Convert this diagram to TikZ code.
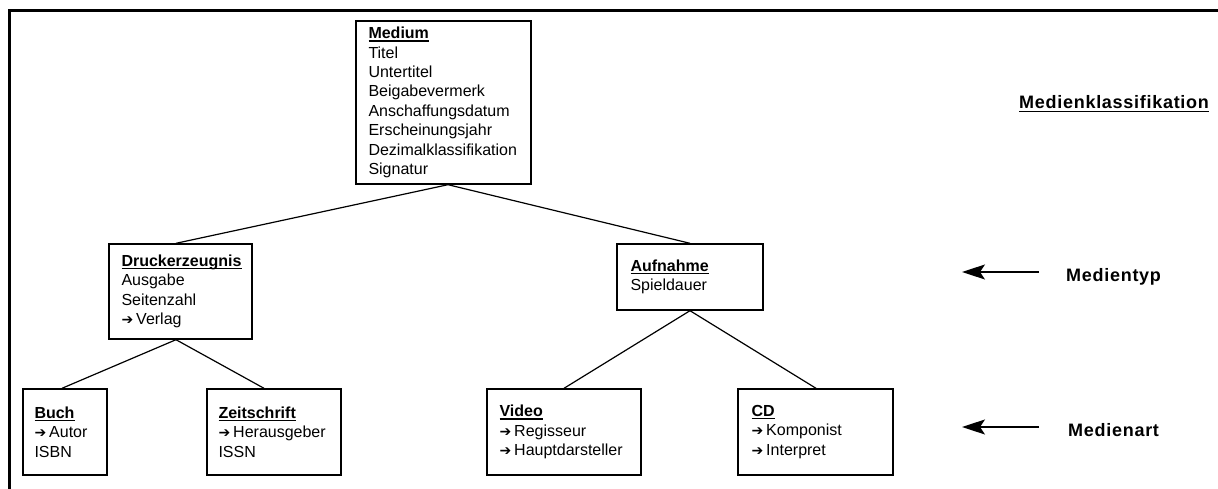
\documentclass[tikz,border=0pt]{standalone}
\usepackage{fontspec}
\setmainfont{Liberation Sans}
\newfontfamily\symfont{DejaVu Sans}
\newfontfamily\labelfont[LetterSpace=4]{Liberation Sans}
\usetikzlibrary{arrows.meta,calc}

% underlined bold class name (rule sits just below the baseline)
\newcommand\hdr[1]{{\bfseries\setbox0\hbox{#1}\rlap{\rule[-2.8pt]{\wd0}{1.3pt}}\box0}}
% underlined level title on the right
\newcommand\lvlhdr[1]{{\setbox0\hbox{#1}\rlap{\rule[-4.2pt]{\wd0}{1.5pt}}\box0}}
% reference marker in front of an attribute
\newcommand\refarr{{\symfont\fontsize{14}{14}\selectfont ➔}\kern3pt}

\tikzset{
  frame/.style={line width=2.5pt},
  classbox/.style={draw, rectangle, line width=1.4pt, inner sep=0pt},
  boxtext/.style={anchor=west, align=left, inner sep=0pt,
    font=\fontsize{16}{19.4}\selectfont},
  link/.style={line width=1.2pt},
  levelarrow/.style={line width=1.5pt,
    -{Stealth[length=23pt,width=15pt,inset=5pt]}},
  sidelabel/.style={anchor=base west, inner sep=0pt,
    font=\labelfont\bfseries\fontsize{18}{20}\selectfont},
}

\begin{document}
\begin{tikzpicture}[x=1pt, y=-1pt]
\useasboundingbox (0,0) rectangle (1218,489);

% page frame (top and left edge)
\draw[frame] (1218,10.5) -- (9.5,10.5) -- (9.5,489);

% class boxes
\node[classbox, minimum width=175pt, minimum height=163pt] (medium) at (443.5,102.5) {};
\node[classbox, minimum width=143pt, minimum height=95pt]  (druck)  at (180.5,291.5) {};
\node[classbox, minimum width=146pt, minimum height=66pt]  (aufn)   at (690,277) {};
\node[classbox, minimum width=84pt,  minimum height=86pt]  (buch)   at (65,432) {};
\node[classbox, minimum width=134pt, minimum height=86pt]  (zeit)   at (274,432) {};
\node[classbox, minimum width=154pt, minimum height=86pt]  (video)  at (564,432) {};
\node[classbox, minimum width=155pt, minimum height=86pt]  (cd)     at (815.5,432) {};

% class contents
\node[boxtext] (medium-t) at ([xshift=13pt]medium.west)
  {\hdr{Medium}\\Titel\\Untertitel\\Beigabevermerk\\Anschaffungsdatum\\Erscheinungsjahr\\Dezimalklassifikation\\Signatur};
\node[boxtext] (druck-t) at ([xshift=13pt]druck.west)
  {\hdr{Druckerzeugnis}\\Ausgabe\\Seitenzahl\\\refarr Verlag};
\node[boxtext] (aufn-t) at ([xshift=14pt]aufn.west)
  {\hdr{Aufnahme}\\Spieldauer};
\node[boxtext] (buch-t) at ([xshift=12pt]buch.west)
  {\hdr{Buch}\\\refarr Autor\\ISBN};
\node[boxtext] (zeit-t) at ([xshift=12pt]zeit.west)
  {\hdr{Zeitschrift}\\\refarr Herausgeber\\ISSN};
\node[boxtext] (video-t) at ([xshift=13pt]video.west)
  {\hdr{Video}\\\refarr Regisseur\\\refarr Hauptdarsteller};
\node[boxtext] (cd-t) at ([xshift=14pt]cd.west)
  {\hdr{CD}\\\refarr Komponist\\\refarr Interpret};

% inheritance lines
\draw[link] ($(medium.south)+(4.5,0)$) -- ($(druck.north)+(-4.5,0)$);
\draw[link] ($(medium.south)+(4.5,0)$) -- (aufn.north);
\draw[link] ($(druck.south)+(-4.5,0)$) -- ($(buch.north)+(-3,0)$);
\draw[link] ($(druck.south)+(-4.5,0)$) -- ($(zeit.north)+(-10,0)$);
\draw[link] (aufn.south) -- (video.north);
\draw[link] (aufn.south) -- ($(cd.north)+(0.5,0)$);

% level titles
\node[sidelabel] (klass) at (1019,108.3) {\lvlhdr{Medienklassifikation}};
\node[sidelabel] (typ)   at (1066,281.7) {Medientyp};
\node[sidelabel] (art)   at (1068,436.7) {Medienart};

\coordinate (typ-tail) at (1039,272);
\coordinate (typ-tip)  at (962,272);
\coordinate (art-tail) at (1039,427);
\coordinate (art-tip)  at (962,427);
\draw[levelarrow] (typ-tail) -- (typ-tip);
\draw[levelarrow] (art-tail) -- (art-tip);
\end{tikzpicture}
\end{document}
